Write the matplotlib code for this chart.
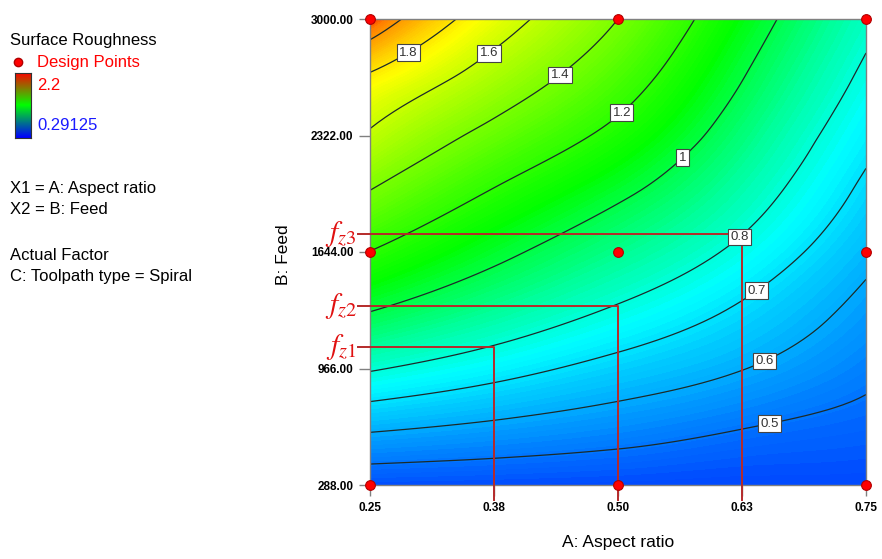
import numpy as np
import matplotlib
matplotlib.use("Agg")
import matplotlib.pyplot as plt
import matplotlib.tri as mtri
from matplotlib.colors import LinearSegmentedColormap
from matplotlib.lines import Line2D

plt.rcParams['font.family'] = ['Liberation Sans', 'DejaVu Sans']
plt.rcParams['mathtext.fontset'] = 'stix'

# factor grid (A: aspect ratio, B: feed) and roughness
aspect = [0.25, 0.375, 0.50, 0.625, 0.75]
feed = [288, 627, 966, 1305, 1644, 1983, 2322, 2661, 3000]
roughness = [
    [0.435, 0.430, 0.425, 0.420, 0.420],
    [0.618, 0.583, 0.547, 0.504, 0.473],
    [0.810, 0.738, 0.667, 0.603, 0.523],
    [1.005, 0.891, 0.787, 0.686, 0.574],
    [1.197, 1.035, 0.903, 0.775, 0.626],
    [1.389, 1.184, 1.022, 0.855, 0.678],
    [1.580, 1.349, 1.156, 0.930, 0.729],
    [1.775, 1.519, 1.281, 1.005, 0.779],
    [2.140, 1.690, 1.400, 1.080, 0.829],
]

design_a = [0.25, 0.50, 0.75, 0.25, 0.50, 0.75, 0.25, 0.50, 0.75]
design_b = [3000, 3000, 3000, 1644, 1644, 1644, 288, 288, 288]

# feed per tooth guide lines
guide_a = [0.375, 0.50, 0.625]
guide_b = [1093, 1331, 1748]
guide_names = [r'$f_{z1}$', r'$f_{z2}$', r'$f_{z3}$']

contour_levels = [0.5, 0.6, 0.7, 0.8, 1.0, 1.2, 1.4, 1.6, 1.8, 2.0]
labelled = [0.5, 0.6, 0.7, 0.8, 1.0, 1.2, 1.4, 1.6, 1.8]
label_spots = [(0.653, 630), (0.650, 983), (0.642, 1401), (0.623, 1731),
               (0.5645, 2195), (0.504, 2455), (0.4415, 2675), (0.371, 2791),
               (0.282, 2868)]

x_ticks = [0.25, 0.375, 0.50, 0.625, 0.75]
x_ticklabels = ['0.25', '0.38', '0.50', '0.63', '0.75']
y_ticks = [288, 966, 1644, 2322, 3000]

z_min, z_max = 0.29125, 2.2

W, H = 882, 559
def fx(x):
    return x / W
def fy(y):
    return 1 - y / H

fig = plt.figure(figsize=(W / 100, H / 100), dpi=100)
ax = fig.add_axes([fx(370), fy(485), fx(866) - fx(370), fy(19) - fy(485)])

# triangulate the grid and let matplotlib smooth it
A, B = np.meshgrid(aspect, feed)
Z = np.array(roughness)
nj = len(aspect)
tris = []
for i in range(len(feed) - 1):
    for j in range(nj - 1):
        k = i * nj + j
        tris.append([k, k + 1, k + nj + 1])
        tris.append([k, k + nj + 1, k + nj])
tri = mtri.Triangulation(A.ravel(), B.ravel(), tris)
interp = mtri.CubicTriInterpolator(tri, Z.ravel(), kind='min_E')
tri_f, z_f = mtri.UniformTriRefiner(tri).refine_field(Z.ravel(), triinterpolator=interp, subdiv=4)

# design-expert like palette: blue, cyan, green, yellow, orange, red
de_map = LinearSegmentedColormap.from_list(
    'de', [(0.0, '#0000ff'), (0.24, '#00ffff'), (0.42, '#00ff00'),
           (0.76, '#ffff00'), (0.93, '#ff8000'), (1.0, '#ff0000')])
ax.tricontourf(tri_f, z_f, levels=np.linspace(z_min, z_max, 150), cmap=de_map,
               vmin=z_min, vmax=z_max, extend='both')
cs = ax.tricontour(tri_f, z_f, levels=contour_levels, colors='#1c2a2a', linewidths=0.9)
texts = ax.clabel(cs, levels=labelled, fmt='%g', manual=label_spots, inline=False, fontsize=9.5)
for t in texts:
    t.set_rotation(0)
    t.set_color('#333333')
    t.set_bbox(dict(boxstyle='square,pad=0.18', fc='white', ec='#444444', lw=0.8))
    t.set_zorder(5)

# guide lines
for a, b, name in zip(guide_a, guide_b, guide_names):
    ax.plot([0.2379, a, a], [b, b, 200], color='#b52a2a', lw=1.4, clip_on=False, zorder=4)
    ax.text(0.2365, b, name, color='#e01010', fontsize=21, ha='right', va='center')

ax.plot(design_a, design_b, 'o', ms=7, mfc='#ff0000', mec='#b00000', mew=0.8,
        clip_on=False, zorder=6)

ax.set_xlim(0.25, 0.75)
ax.set_ylim(288, 3000)
ax.set_xticks(x_ticks)
ax.set_xticklabels(x_ticklabels)
ax.set_yticks(y_ticks)
ax.set_yticklabels(['%.2f' % v for v in y_ticks])
ax.tick_params(direction='out', length=8, width=1, color='#808080', labelsize=8.5, pad=4)
for lbl in ax.get_xticklabels() + ax.get_yticklabels():
    lbl.set_fontweight('bold')
for s in ax.spines.values():
    s.set_color('#808080')
    s.set_linewidth(1)

fig.text(fx(618), fy(542), 'A: Aspect ratio', fontsize=12.5, ha='center', va='center')
fig.text(fx(283), fy(255), 'B: Feed', fontsize=12.5, ha='center', va='center', rotation=90)

# left hand legend
fig.text(fx(10), fy(41), 'Surface Roughness', fontsize=12, va='center')
fig.add_artist(Line2D([fx(18)], [fy(62)], transform=fig.transFigure, marker='o', ms=6,
                      mfc='#ff0000', mec='#b00000', ls='none'))
fig.text(fx(37), fy(62), 'Design Points', fontsize=12, va='center', color='#ff0000')
cax = fig.add_axes([fx(15), fy(138), fx(16), fy(73) - fy(138)])
rgb_map = LinearSegmentedColormap.from_list('rgb', ['#0000ff', '#00ff00', '#ff0000'])
cax.imshow(np.linspace(0, 1, 64).reshape(-1, 1), cmap=rgb_map, aspect='auto', origin='lower')
cax.set_xticks([])
cax.set_yticks([])
for s in cax.spines.values():
    s.set_color('#333333')
fig.text(fx(37), fy(85), '%.1f' % z_max, fontsize=12, va='center', color='#ff0000')
fig.text(fx(37), fy(126), '%.5f' % z_min, fontsize=12, va='center', color='#1a1aff')
fig.text(fx(10), fy(189), 'X1 = A: Aspect ratio', fontsize=12, va='center')
fig.text(fx(10), fy(210), 'X2 = B: Feed', fontsize=12, va='center')
fig.text(fx(10), fy(255), 'Actual Factor', fontsize=12, va='center')
fig.text(fx(10), fy(276), 'C: Toolpath type = Spiral', fontsize=12, va='center')

fig.savefig('out.png', dpi=100)
